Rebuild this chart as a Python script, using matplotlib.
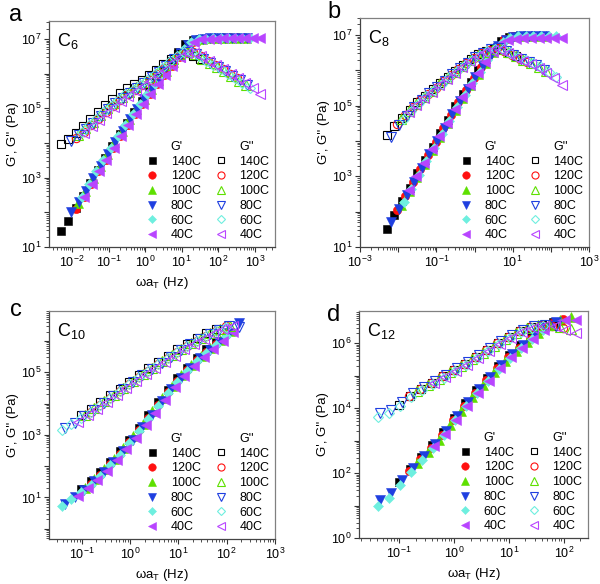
import numpy as np
import matplotlib
matplotlib.use('Agg')
import matplotlib.pyplot as plt
from matplotlib.ticker import LogLocator, FuncFormatter, NullFormatter
from matplotlib.lines import Line2D

plt.rcParams['font.family'] = ['Liberation Sans', 'DejaVu Sans']
plt.rcParams['mathtext.fontset'] = 'custom'
plt.rcParams['mathtext.rm'] = 'Liberation Sans'
plt.rcParams['mathtext.it'] = 'Liberation Sans:italic'
plt.rcParams['mathtext.bf'] = 'Liberation Sans:bold'

# ---------------- data (log10 of frequency in Hz, log10 of modulus in Pa) ----------------
TEMPS = ['140C', '120C', '100C', '80C', '60C', '40C']

# Panel a : C6
a_logw = [
    [-2.3, -2.1, -1.9, -1.7, -1.5, -1.3, -1.1, -0.9, -0.7, -0.5, -0.3, -0.1, 0.1, 0.3, 0.5, 0.7, 0.9, 1.1, 1.3, 1.5],
    [-1.88, -1.68, -1.48, -1.28, -1.08, -0.88, -0.68, -0.48, -0.28, -0.08, 0.12, 0.32, 0.52, 0.72, 0.92, 1.12, 1.32, 1.52, 1.72, 1.92, 2.12, 2.32, 2.52],
    [-1.84, -1.64, -1.44, -1.24, -1.04, -0.84, -0.64, -0.44, -0.24, -0.04, 0.16, 0.36, 0.56, 0.76, 0.96, 1.16, 1.36, 1.56, 1.76, 1.96, 2.16, 2.36, 2.56, 2.76],
    [-2.02, -1.82, -1.62, -1.42, -1.22, -1.02, -0.82, -0.62, -0.42, -0.22, -0.02, 0.18, 0.38, 0.58, 0.78, 0.98, 1.18, 1.38, 1.58, 1.78, 1.98, 2.18, 2.38, 2.58, 2.78],
    [-1.74, -1.54, -1.34, -1.14, -0.94, -0.74, -0.54, -0.34, -0.14, 0.06, 0.26, 0.46, 0.66, 0.86, 1.06, 1.26, 1.46, 1.66, 1.86, 2.06, 2.26, 2.46, 2.66, 2.86],
    [-1.66, -1.46, -1.26, -1.06, -0.86, -0.66, -0.46, -0.26, -0.06, 0.14, 0.34, 0.54, 0.74, 0.94, 1.14, 1.34, 1.54, 1.74, 1.94, 2.14, 2.34, 2.54, 2.74, 2.94, 3.14],
]
a_logg1 = [
    [1.46, 1.75, 2.12, 2.48, 2.86, 3.22, 3.57, 3.92, 4.26, 4.58, 4.9, 5.2, 5.5, 5.8, 6.08, 6.36, 6.62, 6.85, 6.97, 7.0],
    [2.1, 2.45, 2.82, 3.18, 3.52, 3.86, 4.2, 4.52, 4.83, 5.12, 5.41, 5.69, 5.96, 6.22, 6.47, 6.72, 6.91, 6.99, 7.02, 7.04, 7.05, 7.05, 7.05],
    [2.28, 2.63, 3.0, 3.35, 3.69, 4.03, 4.36, 4.68, 4.98, 5.27, 5.55, 5.83, 6.09, 6.35, 6.6, 6.83, 6.96, 7.0, 7.02, 7.03, 7.04, 7.04, 7.04, 7.04],
    [2.0, 2.3, 2.63, 3.0, 3.35, 3.69, 4.03, 4.36, 4.68, 4.98, 5.27, 5.55, 5.83, 6.09, 6.35, 6.6, 6.83, 6.96, 7.0, 7.02, 7.03, 7.03, 7.03, 7.03, 7.03],
    [2.45, 2.82, 3.18, 3.52, 3.86, 4.2, 4.52, 4.83, 5.12, 5.41, 5.69, 5.96, 6.22, 6.47, 6.72, 6.91, 6.99, 7.01, 7.02, 7.03, 7.03, 7.03, 7.03, 7.03],
    [2.45, 2.82, 3.18, 3.52, 3.86, 4.2, 4.52, 4.83, 5.12, 5.41, 5.69, 5.96, 6.22, 6.47, 6.72, 6.91, 6.99, 7.01, 7.01, 7.02, 7.02, 7.02, 7.02, 7.02, 7.02],
]
a_logg2 = [
    [3.96, 4.12, 4.3, 4.5, 4.7, 4.9, 5.1, 5.28, 5.44, 5.58, 5.7, 5.82, 5.95, 6.1, 6.27, 6.43, 6.57, 6.6, 6.52, 6.42],
    [4.15, 4.33, 4.51, 4.7, 4.9, 5.08, 5.24, 5.4, 5.54, 5.68, 5.83, 5.99, 6.15, 6.33, 6.5, 6.62, 6.62, 6.5, 6.37, 6.25, 6.13, 6.0, 5.87],
    [4.24, 4.42, 4.6, 4.8, 5.0, 5.16, 5.32, 5.47, 5.61, 5.75, 5.91, 6.07, 6.24, 6.42, 6.57, 6.64, 6.57, 6.43, 6.31, 6.19, 6.07, 5.94, 5.8, 5.67],
    [4.05, 4.22, 4.4, 4.58, 4.78, 4.98, 5.14, 5.3, 5.45, 5.6, 5.74, 5.9, 6.06, 6.23, 6.41, 6.56, 6.63, 6.56, 6.43, 6.31, 6.19, 6.07, 5.94, 5.81, 5.68],
    [4.33, 4.51, 4.7, 4.9, 5.08, 5.24, 5.4, 5.54, 5.68, 5.83, 5.99, 6.15, 6.33, 6.5, 6.62, 6.62, 6.5, 6.37, 6.25, 6.13, 6.0, 5.87, 5.74, 5.6],
    [4.3, 4.48, 4.67, 4.87, 5.05, 5.21, 5.37, 5.51, 5.65, 5.8, 5.96, 6.12, 6.3, 6.47, 6.6, 6.6, 6.5, 6.37, 6.25, 6.13, 6.0, 5.87, 5.74, 5.6, 5.42],
]

# Panel b : C8
b_logw = [
    [-2.3, -2.1, -1.9, -1.7, -1.5, -1.3, -1.1, -0.9, -0.7, -0.5, -0.3, -0.1, 0.1, 0.3, 0.5, 0.7, 0.9, 1.1],
    [-2.02, -1.82, -1.62, -1.42, -1.22, -1.02, -0.82, -0.62, -0.42, -0.22, -0.02, 0.18, 0.38, 0.58, 0.78, 0.98, 1.18, 1.38],
    [-1.92, -1.72, -1.52, -1.32, -1.12, -0.92, -0.72, -0.52, -0.32, -0.12, 0.08, 0.28, 0.48, 0.68, 0.88, 1.08, 1.28, 1.48, 1.68, 1.88],
    [-2.18, -1.98, -1.78, -1.58, -1.38, -1.18, -0.98, -0.78, -0.58, -0.38, -0.18, 0.02, 0.22, 0.42, 0.62, 0.82, 1.02, 1.22, 1.42, 1.62, 1.82],
    [-1.86, -1.66, -1.46, -1.26, -1.06, -0.86, -0.66, -0.46, -0.26, -0.06, 0.14, 0.34, 0.54, 0.74, 0.94, 1.14, 1.34, 1.54, 1.74, 1.94, 2.14],
    [-1.72, -1.52, -1.32, -1.12, -0.92, -0.72, -0.52, -0.32, -0.12, 0.08, 0.28, 0.48, 0.68, 0.88, 1.08, 1.28, 1.48, 1.68, 1.88, 2.08, 2.28],
]
b_logg1 = [
    [1.52, 1.9, 2.3, 2.68, 3.08, 3.46, 3.84, 4.22, 4.6, 4.98, 5.34, 5.68, 6.0, 6.32, 6.62, 6.84, 6.94, 6.97],
    [2.06, 2.44, 2.83, 3.22, 3.6, 3.98, 4.36, 4.74, 5.11, 5.45, 5.78, 6.1, 6.42, 6.69, 6.88, 6.96, 6.98, 6.98],
    [2.2, 2.58, 2.98, 3.36, 3.74, 4.12, 4.5, 4.88, 5.23, 5.57, 5.89, 6.21, 6.51, 6.75, 6.9, 6.96, 6.98, 6.98, 6.98, 6.98],
    [1.72, 2.08, 2.46, 2.85, 3.24, 3.62, 4.0, 4.38, 4.76, 5.13, 5.47, 5.8, 6.12, 6.44, 6.7, 6.87, 6.95, 6.96, 6.96, 6.96, 6.96],
    [2.27, 2.65, 3.05, 3.43, 3.81, 4.19, 4.57, 4.95, 5.3, 5.64, 5.96, 6.28, 6.58, 6.8, 6.92, 6.96, 6.96, 6.96, 6.96, 6.96, 6.96],
    [2.6, 3.0, 3.38, 3.76, 4.14, 4.52, 4.9, 5.25, 5.59, 5.91, 6.23, 6.53, 6.75, 6.86, 6.89, 6.9, 6.9, 6.9, 6.9, 6.9, 6.9],
]
b_logg2 = [
    [4.16, 4.42, 4.66, 4.88, 5.09, 5.28, 5.46, 5.64, 5.82, 5.99, 6.16, 6.32, 6.46, 6.56, 6.62, 6.6, 6.5, 6.4],
    [4.49, 4.73, 4.95, 5.15, 5.33, 5.51, 5.69, 5.87, 6.04, 6.2, 6.35, 6.48, 6.58, 6.62, 6.56, 6.44, 6.33, 6.24],
    [4.61, 4.84, 5.05, 5.24, 5.42, 5.6, 5.78, 5.95, 6.12, 6.28, 6.42, 6.53, 6.6, 6.6, 6.52, 6.41, 6.3, 6.22, 6.1, 5.97],
    [4.12, 4.45, 4.72, 4.97, 5.17, 5.35, 5.53, 5.71, 5.89, 6.06, 6.22, 6.37, 6.5, 6.59, 6.62, 6.56, 6.44, 6.33, 6.24, 6.14, 6.02],
    [4.63, 4.86, 5.07, 5.26, 5.44, 5.62, 5.8, 5.97, 6.14, 6.3, 6.44, 6.55, 6.61, 6.6, 6.5, 6.38, 6.28, 6.2, 6.08, 5.95, 5.8],
    [4.82, 5.03, 5.22, 5.4, 5.58, 5.76, 5.93, 6.1, 6.26, 6.4, 6.51, 6.57, 6.57, 6.48, 6.36, 6.26, 6.18, 6.06, 5.93, 5.78, 5.58],
]

# Panel c : C10
c_logw = [
    [-1.02, -0.82, -0.62, -0.42, -0.22, -0.02, 0.18, 0.38, 0.58, 0.78, 0.98, 1.18, 1.38, 1.58, 1.78],
    [-0.82, -0.62, -0.42, -0.22, -0.02, 0.18, 0.38, 0.58, 0.78, 0.98, 1.18, 1.38, 1.58, 1.78, 1.98],
    [-0.94, -0.74, -0.54, -0.34, -0.14, 0.06, 0.26, 0.46, 0.66, 0.86, 1.06, 1.26, 1.46, 1.66, 1.86, 2.06],
    [-1.35, -1.15, -0.95, -0.75, -0.55, -0.35, -0.15, 0.05, 0.25, 0.45, 0.65, 0.85, 1.05, 1.25, 1.45, 1.65, 1.85, 2.05, 2.25],
    [-1.42, -1.22, -1.02, -0.82, -0.62, -0.42, -0.22, -0.02, 0.18, 0.38, 0.58, 0.78, 0.98, 1.18, 1.38, 1.58, 1.78, 1.98],
    [-1.08, -0.88, -0.68, -0.48, -0.28, -0.08, 0.12, 0.32, 0.52, 0.72, 0.92, 1.12, 1.32, 1.52, 1.72, 1.92, 2.12],
]
c_logg1 = [
    [1.27, 1.52, 1.81, 2.14, 2.48, 2.84, 3.22, 3.62, 4.04, 4.45, 4.81, 5.14, 5.46, 5.73, 5.98],
    [1.44, 1.73, 2.06, 2.4, 2.76, 3.14, 3.54, 3.96, 4.37, 4.73, 5.06, 5.38, 5.65, 5.9, 6.18],
    [1.31, 1.58, 1.9, 2.22, 2.58, 2.95, 3.34, 3.75, 4.17, 4.56, 4.9, 5.22, 5.52, 5.78, 6.03, 6.33],
    [0.8, 1.02, 1.25, 1.51, 1.81, 2.14, 2.49, 2.85, 3.24, 3.65, 4.07, 4.47, 4.82, 5.14, 5.45, 5.72, 5.97, 6.26, 6.57],
    [0.72, 0.94, 1.16, 1.41, 1.7, 2.03, 2.37, 2.73, 3.11, 3.51, 3.93, 4.34, 4.7, 5.03, 5.35, 5.62, 5.87, 6.15],
    [1.06, 1.3, 1.56, 1.86, 2.18, 2.54, 2.91, 3.3, 3.71, 4.13, 4.52, 4.87, 5.19, 5.49, 5.76, 6.0, 6.3],
]
c_logg2 = [
    [3.62, 3.82, 4.04, 4.26, 4.48, 4.7, 4.92, 5.13, 5.33, 5.53, 5.73, 5.92, 6.09, 6.25, 6.4],
    [3.74, 3.96, 4.18, 4.4, 4.62, 4.84, 5.05, 5.25, 5.45, 5.65, 5.84, 6.01, 6.17, 6.32, 6.47],
    [3.64, 3.85, 4.07, 4.29, 4.51, 4.73, 4.95, 5.15, 5.35, 5.55, 5.75, 5.93, 6.09, 6.25, 6.39, 6.49],
    [3.22, 3.39, 3.59, 3.8, 4.02, 4.24, 4.46, 4.68, 4.9, 5.1, 5.3, 5.5, 5.7, 5.89, 6.05, 6.21, 6.36, 6.47, 6.45],
    [3.15, 3.34, 3.54, 3.74, 3.96, 4.18, 4.4, 4.62, 4.84, 5.05, 5.25, 5.45, 5.65, 5.84, 6.01, 6.17, 6.32, 6.45],
    [3.42, 3.62, 3.83, 4.05, 4.27, 4.49, 4.71, 4.93, 5.13, 5.33, 5.53, 5.73, 5.91, 6.07, 6.23, 6.37, 6.47],
]

# Panel d : C12
d_logw = [
    [-1.0, -0.8, -0.6, -0.4, -0.2, 0.0, 0.2, 0.4, 0.6, 0.8, 1.0, 1.2, 1.4, 1.6, 1.8],
    [-0.82, -0.62, -0.42, -0.22, -0.02, 0.18, 0.38, 0.58, 0.78, 0.98, 1.18, 1.38, 1.58, 1.78, 1.98],
    [-0.67, -0.47, -0.27, -0.07, 0.13, 0.33, 0.53, 0.73, 0.93, 1.13, 1.33, 1.53, 1.73, 1.93, 2.13],
    [-1.34, -1.14, -0.94, -0.74, -0.54, -0.34, -0.14, 0.06, 0.26, 0.46, 0.66, 0.86, 1.06, 1.26, 1.46, 1.66, 1.86],
    [-1.38, -1.18, -0.98, -0.78, -0.58, -0.38, -0.18, 0.02, 0.22, 0.42, 0.62, 0.82, 1.02, 1.22, 1.42, 1.62],
    [-0.37, -0.17, 0.03, 0.23, 0.43, 0.63, 0.83, 1.03, 1.23, 1.43, 1.63, 1.83, 2.03, 2.23],
]
d_logg1 = [
    [1.72, 2.13, 2.5, 2.86, 3.25, 3.71, 4.15, 4.55, 4.93, 5.31, 5.65, 5.94, 6.22, 6.48, 6.66],
    [2.05, 2.42, 2.78, 3.17, 3.63, 4.07, 4.47, 4.85, 5.23, 5.57, 5.86, 6.14, 6.42, 6.62, 6.74],
    [2.3, 2.66, 3.02, 3.47, 3.92, 4.33, 4.72, 5.1, 5.46, 5.76, 6.04, 6.32, 6.57, 6.7, 6.82],
    [1.18, 1.38, 1.78, 2.17, 2.53, 2.89, 3.3, 3.77, 4.19, 4.59, 4.97, 5.34, 5.66, 5.95, 6.22, 6.5, 6.65],
    [1.0, 1.24, 1.62, 2.03, 2.4, 2.76, 3.16, 3.62, 4.06, 4.46, 4.84, 5.21, 5.55, 5.84, 6.12, 6.4],
    [2.82, 3.2, 3.63, 4.08, 4.48, 4.84, 5.22, 5.57, 5.85, 6.13, 6.41, 6.6, 6.7, 6.7],
]
d_logg2 = [
    [4.1, 4.37, 4.6, 4.78, 4.98, 5.16, 5.36, 5.57, 5.78, 6.0, 6.2, 6.37, 6.5, 6.56, 6.54],
    [4.37, 4.6, 4.78, 4.98, 5.16, 5.36, 5.57, 5.78, 6.0, 6.2, 6.37, 6.5, 6.56, 6.54, 6.47],
    [4.53, 4.72, 4.91, 5.1, 5.29, 5.5, 5.7, 5.92, 6.13, 6.31, 6.46, 6.55, 6.56, 6.5, 6.45],
    [3.84, 3.94, 4.18, 4.45, 4.64, 4.84, 5.03, 5.22, 5.43, 5.63, 5.84, 6.06, 6.26, 6.42, 6.52, 6.56, 6.52],
    [3.72, 3.86, 4.08, 4.33, 4.56, 4.74, 4.94, 5.13, 5.33, 5.54, 5.75, 5.97, 6.17, 6.34, 6.47, 6.53],
    [4.78, 4.96, 5.14, 5.34, 5.55, 5.75, 5.96, 6.17, 6.35, 6.48, 6.54, 6.52, 6.42, 6.31],
]

# tick labels (decade exponents that carry a label)
a_xlabels, a_ylabels = [-2, -1, 0, 1, 2, 3], [1, 3, 5, 7]
b_xlabels, b_ylabels = [-3, -1, 1, 3], [1, 3, 5, 7]
c_xlabels, c_ylabels = [-1, 0, 1, 2, 3], [1, 3, 5]
d_xlabels, d_ylabels = [-1, 0, 1, 2], [0, 2, 4, 6]
panel_names = ['a', 'b', 'c', 'd']
sample_subs = ['6', '8', '10', '12']

# ---------------- style ----------------
COLORS = ['#000000', '#ff1010', '#5ee000', '#1f3fe0', '#6eefdf', '#b844ff']
MARKERS = ['s', 'o', '^', 'v', 'D', '<']
MS = [5.6, 6.0, 6.6, 6.6, 5.0, 6.6]

fig = plt.figure(figsize=(6.0, 5.84), dpi=100)
W, H = 600.0, 584.0


def rect(l, r, t, b):
    return [l / W, (H - b) / H, (r - l) / W, (b - t) / H]


panels = [
    dict(rect=rect(49, 275, 21, 247), xl=(-2.63, 3.55), yl=(1, 7.52), w=a_logw, g1=a_logg1, g2=a_logg2,
         xlab=a_xlabels, ylab=a_ylabels, xlabel=True, letter=(16, 21)),
    dict(rect=rect(360, 589, 18, 247), xl=(-3, 3), yl=(1, 7.48), w=b_logw, g1=b_logg1, g2=b_logg2,
         xlab=b_xlabels, ylab=b_ylabels, xlabel=False, letter=(334, 18)),
    dict(rect=rect(49, 275, 311, 539), xl=(-1.68, 3.0), yl=(-0.33, 6.96), w=c_logw, g1=c_logg1, g2=c_logg2,
         xlab=c_xlabels, ylab=c_ylabels, xlabel=True, letter=(16, 316)),
    dict(rect=rect(359, 588, 311, 538), xl=(-1.73, 2.44), yl=(0, 6.99), w=d_logw, g1=d_logg1, g2=d_logg2,
         xlab=d_xlabels, ylab=d_ylabels, xlabel=True, letter=(334, 321)),
]


def make_fmt(labeled):
    def f(v, pos):
        e = int(round(np.log10(v)))
        if abs(np.log10(v) - e) < 1e-6 and e in labeled:
            return r'$\mathregular{10^{%d}}$' % e
        return ''
    return FuncFormatter(f)


for k, p in enumerate(panels):
    ax = fig.add_axes(p['rect'])
    ax.set_xscale('log')
    ax.set_yscale('log')
    for i in range(len(TEMPS)):
        ax.plot(10 ** np.array(p['w'][i]), 10 ** np.array(p['g1'][i]), ls='none',
                marker=MARKERS[i], ms=MS[i], color=COLORS[i], mec=COLORS[i], mew=0.4)
    for i in range(len(TEMPS)):
        ax.plot(10 ** np.array(p['w'][i]), 10 ** np.array(p['g2'][i]), ls='none',
                marker=MARKERS[i], ms=MS[i], mfc='none', mec=COLORS[i], mew=0.8)
    ax.set_xlim(10 ** p['xl'][0], 10 ** p['xl'][1])
    ax.set_ylim(10 ** p['yl'][0], 10 ** p['yl'][1])
    for axis, lab in ((ax.xaxis, p['xlab']), (ax.yaxis, p['ylab'])):
        axis.set_major_locator(LogLocator(base=10, numticks=30))
        axis.set_minor_locator(LogLocator(base=10, subs=np.arange(2, 10), numticks=30))
        axis.set_major_formatter(make_fmt(lab))
        axis.set_minor_formatter(NullFormatter())
    ax.tick_params(which='both', direction='out', color='#333333', top=False, right=False,
                   labelsize=9, pad=2)
    ax.tick_params(which='major', length=3.5, width=0.8)
    ax.tick_params(which='minor', length=2.0, width=0.6)
    for s in ('left', 'bottom'):
        ax.spines[s].set_color('#444444')
        ax.spines[s].set_linewidth(0.9)
    for s in ('top', 'right'):
        ax.spines[s].set_color('#808080')
        ax.spines[s].set_linewidth(0.9)
    ax.set_ylabel("G', G'' (Pa)", fontsize=9.5, labelpad=1)
    if p['xlabel']:
        ax.set_xlabel(r'ωa$_\mathregular{T}$ (Hz)', fontsize=9.5, labelpad=4)
    ax.text(0.035, 0.89, r'C$_\mathregular{%s}$' % sample_subs[k], transform=ax.transAxes,
            fontsize=13, va='baseline', ha='left')
    # legend: two columns with headers
    hdr1 = Line2D([], [], ls='none', marker='None')
    hdr2 = Line2D([], [], ls='none', marker='None')
    filled = [Line2D([], [], ls='none', marker=MARKERS[i], ms=MS[i] * 0.9, color=COLORS[i], mew=0.4)
              for i in range(len(TEMPS))]
    opened = [Line2D([], [], ls='none', marker=MARKERS[i], ms=MS[i] * 0.85, mfc='none', mec=COLORS[i], mew=0.8)
              for i in range(len(TEMPS))]
    handles = [hdr1] + filled + [hdr2] + opened
    labels = ["G'"] + TEMPS + ["G''"] + TEMPS
    ax.legend(handles, labels, ncol=2, loc='lower right', frameon=False, fontsize=9,
              handlelength=1.0, handletextpad=1.0, columnspacing=1.1, labelspacing=0.22,
              borderaxespad=0.15, borderpad=0.3)
    lx, ly = p['letter']
    fig.text(lx / W, 1 - ly / H, panel_names[k], fontsize=17, ha='center', va='baseline')

fig.savefig('out.png', dpi=100)
